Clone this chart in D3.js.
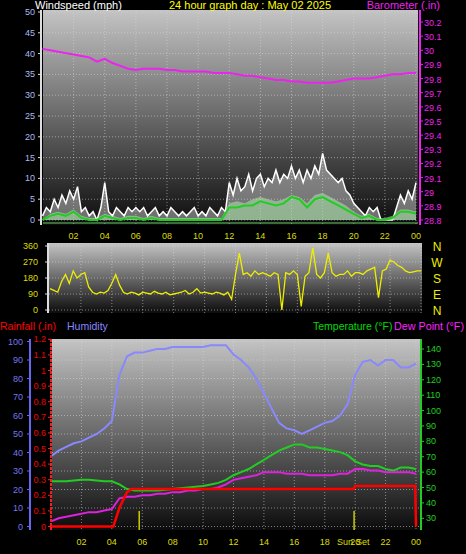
<!DOCTYPE html>
<html><head><meta charset="utf-8">
<script src="https://cdn.jsdelivr.net/npm/d3@7"></script>
<style>body{margin:0;background:#000}svg{display:block;font-family:"Liberation Sans",Arial,sans-serif}</style>
</head><body><div id="container"></div>
<script>
// time steps: half-hour and quarter-hour samples over the day
var halfHours = d3.range(49).map(function(i){ return i/2; });
var quarterHours = d3.range(97).map(function(i){ return i/4; });
var hourLabels = ["02","04","06","08","10","12","14","16","18","20","22","00"];

var windGust = [1,3,2,5, 3,6,4,7, 5,8,2,3, 1,2,0,3, 9,2,1,3, 2,1,3,2, 3,2,3,1, 2,3,1,2,
  1,3,2,1, 2,1,2,3, 1,2,1,3, 2,1,3,2, 9,6,10,7, 8,11,7,10, 11,8,10,9, 12,9,11,10,
  13,10,12,9, 12,10,13,11, 16,12,11,10, 9,10,7,6, 4,3,2,1, 3,2,3,0, 0,0,0,3, 6,4,7,5, 9];
var windSpeed = [0,1.5,2,1.5,2.5,1,0.5,0.5,1.5,1,0.5,1,1,0.5,1,0.5,0.5,0.5,0.5,0.5,0.5,0.5,0.5,0.5,
  4,4.5,4,5,5.5,5,4.5,5,6,5.5,4,6,6.5,5.5,4.5,3.5,2,1,1.5,0.5,0.5,1,2.5,2.5,2];
var windAvg = [0,1,1.5,1,2,0.5,0,0,1,0.5,0,0.5,0.5,0,0.5,0,0,0,0,0,0,0,0,0,
  3,3,3.5,3.5,4.5,4,3.5,4,5.5,5,3,5,5.5,4.5,3.5,2.5,1.5,0.5,1,0,0,0.5,2,2,1.5];
var baro = [30.01,30.0,29.99,29.98,29.97,29.96,29.95,29.92,29.94,29.91,29.89,29.87,29.86,29.87,29.87,29.87,
  29.86,29.86,29.85,29.85,29.85,29.85,29.84,29.84,29.84,29.83,29.82,29.82,29.81,29.8,29.79,29.79,
  29.78,29.78,29.77,29.77,29.77,29.77,29.78,29.79,29.8,29.8,29.8,29.81,29.82,29.83,29.83,29.84,29.84];
var windDir = [120,110,100,160, 200,150,220,180, 200,210,130,100, 90,100,95,110, 150,200,140,100,
  90,100,95,85, 100,95,90,105, 95,90,100,85, 90,95,100,110, 90,100,120,95, 100,95,90,100,
  95,85,100,60, 200,320,200,210, 190,220,200,210, 200,190,210,200, 0,210,200,220,
  200,20,190,210, 350,200,180,210, 320,210,190,200, 200,220,190,210, 210,200,220,230,
  240,70,220,230, 280,270,250,240, 220,210,215,220, 220];
var humidity = [38,41,43,45,46,48,50,53,57,82,92,94,94,95,96,96,97,97,97,97,97,98,98,98,
  93,90,86,80,72,64,56,53,52,50,52,54,56,57,60,66,82,89,90,87,90,90,86,86,88];
var temperature = [54,54,54,54.5,55,55,54.5,54,54,52,49,48,48,48,48,48.5,49,49.5,50,50.5,51,52,53,55,
  58,60,62,65,68,71,74,76,78,78,76,76,75,74,73,71,67,65,64,64,62,61,63,63,62];
var dewPoint = [28,30,31,32,33,34,34,35,36,43,44,44,45,45,46,46,47,47,48,48,49,49,50,52,
  55,56,57,58,60,60,60,59,59,59,58,58,58,58,59,59,62,62,61,61,60,60,60,60,59];
var rainTimes = [0,4.1,4.5,5.0,5.3,19.9,20.0,23.95,24];
var rainValues = [0,0,0.12,0.22,0.24,0.24,0.26,0.26,0];
var sunTimes = [5.8, 19.93];

var svg = d3.select("#container").append("svg").attr("width",466).attr("height",554);
var defs = svg.append("defs");
var grad = defs.append("linearGradient").attr("id","bg").attr("x1",0).attr("x2",0).attr("y1",0).attr("y2",1);
grad.append("stop").attr("offset","0%").attr("stop-color","#c4c4c4");
grad.append("stop").attr("offset","100%").attr("stop-color","#0c0c0c");

function panel(x0,x1,y0,y1){
  svg.append("rect").attr("x",x0).attr("y",y0).attr("width",x1-x0).attr("height",y1-y0).attr("fill","url(#bg)");
}
function text(t,x,y,col,anchor,size){
  return svg.append("text").text(t).attr("x",x).attr("y",y).attr("fill",col)
    .attr("font-size",size||11).attr("text-anchor",anchor||"start");
}
function vgrid(xs,x0,x1,y0,y1){
  d3.range(2,25,2).forEach(function(h){
    svg.append("line").attr("x1",xs(h)).attr("x2",xs(h)).attr("y1",y0).attr("y2",y1)
      .attr("stroke","#d8d8d8").attr("stroke-opacity",0.55).attr("stroke-dasharray","1,2");
  });
}
function hgrid(ys,ticks,x0,x1){
  ticks.forEach(function(t){
    svg.append("line").attr("x1",x0).attr("x2",x1).attr("y1",ys(t)).attr("y2",ys(t))
      .attr("stroke","#d8d8d8").attr("stroke-opacity",0.55).attr("stroke-dasharray","1,2");
  });
}
function axisLine(x,y0,y1,col,ticks,ys,side,dash){
  svg.append("line").attr("x1",x).attr("x2",x).attr("y1",y0).attr("y2",y1).attr("stroke",col)
    .attr("stroke-width",2).attr("stroke-dasharray",dash||null);
  ticks.forEach(function(t){
    svg.append("line").attr("x1",x).attr("x2",x+side*3).attr("y1",ys(t)).attr("y2",ys(t)).attr("stroke",col);
  });
}

// ---------- top panel: wind + barometer ----------
var xTop = d3.scaleLinear().domain([0,24]).range([42.5,416]);
var yWind = d3.scaleLinear().domain([0,50]).range([220,12]);
var yBaro = d3.scaleLinear().domain([28.8,30.2]).range([220,22]);
panel(43,418,10,225);
vgrid(xTop,43,418,10,225);
hgrid(yWind,d3.range(0,51,5),43,418);

var gustPts = quarterHours.map(function(h,i){ return [h,windGust[i]]; });
svg.append("path").datum(gustPts)
  .attr("d",d3.area().x(function(d){return xTop(d[0]);}).y0(yWind(0)).y1(function(d){return yWind(d[1]);}))
  .attr("fill","#e0e0e0").attr("fill-opacity",0.45);
svg.append("path").datum(gustPts)
  .attr("d",d3.line().x(function(d){return xTop(d[0]);}).y(function(d){return yWind(d[1]);}))
  .attr("fill","none").attr("stroke","#ffffff").attr("stroke-width",1.5);
svg.append("path").datum(halfHours.map(function(h,i){return [h,windSpeed[i]];}))
  .attr("d",d3.area().x(function(d){return xTop(d[0]);}).y0(yWind(0)).y1(function(d){return yWind(d[1]);}))
  .attr("fill","#a8e0a8").attr("fill-opacity",0.6);
svg.append("path").datum(halfHours.map(function(h,i){return [h,windAvg[i]];}))
  .attr("d",d3.line().x(function(d){return xTop(d[0]);}).y(function(d){return yWind(d[1]);}))
  .attr("fill","none").attr("stroke","#22cc22").attr("stroke-width",2);
svg.append("line").attr("x1",43).attr("x2",418).attr("y1",yWind(0)+3).attr("y2",yWind(0)+3).attr("stroke","#66cc66").attr("stroke-width",1);
svg.append("path").datum(halfHours.map(function(h,i){return [h,baro[i]];}))
  .attr("d",d3.line().x(function(d){return xTop(d[0]);}).y(function(d){return yBaro(d[1]);}))
  .attr("fill","none").attr("stroke","#ee22ee").attr("stroke-width",2);

axisLine(41,10,225,"#dddddd",d3.range(0,51,5),yWind,-1);
d3.range(0,51,5).forEach(function(t){ text(t,35,yWind(t)+3,"#aabbee","end",9); });
axisLine(420,10,225,"#ee22ee",d3.range(28.8,30.21,0.1),yBaro,1);
d3.range(28.8,30.21,0.1).forEach(function(t){ text(+t.toFixed(1),424,yBaro(t)+4,"#ee22ee","start",9); });
hourLabels.forEach(function(l,i){ text(l,xTop((i+1)*2),239,"#dddd00","middle",9); });

text("Windspeed (mph)",35,9,"#ffffff","start",11);
text("24 hour graph day : May 02 2025",250,9,"#ffff00","middle",11);
text("Barometer (.in)",440,9,"#ee22ee","end",11);

// ---------- middle panel: wind direction ----------
var xMid = d3.scaleLinear().domain([0,24]).range([50,421]);
var yDir = d3.scaleLinear().domain([0,360]).range([310,246]);
panel(49,422,243,313);
vgrid(xMid,49,422,243,313);
hgrid(yDir,[0,90,180,270,360],49,422);
svg.append("path").datum(quarterHours.map(function(h,i){return [h,windDir[i]];}))
  .attr("d",d3.line().x(function(d){return xMid(d[0]);}).y(function(d){return yDir(d[1]);}))
  .attr("fill","none").attr("stroke","#eeee00").attr("stroke-width",1.3);
axisLine(48,243,313,"#dddddd",[0,90,180,270,360],yDir,-1);
[0,90,180,270,360].forEach(function(t){ text(t,38,yDir(t)+3,"#dddd00","end",9); });
["N","E","S","W","N"].forEach(function(c,i){ text(c,437,yDir(i*90)+5,"#eeee00","middle",12); });

// ---------- legend row ----------
text("Rainfall (.in)",0,330,"#ff0000","start",10.5);
text("Humidity",67,330,"#8888ff","start",10.5);
text("Temperature (°F)",313,330,"#00dd00","start",10.5);
text("Dew Point (°F)",394,330,"#ff22ff","start",10.5).attr("textLength",70).attr("lengthAdjust","spacingAndGlyphs");

// ---------- bottom panel: humidity, rain, temperature, dew point ----------
var xBot = d3.scaleLinear().domain([0,24]).range([51,416]);
var yHum = d3.scaleLinear().domain([0,100]).range([526.5,341.5]);
var yRain = d3.scaleLinear().domain([0,1.2]).range([526.5,339.3]);
var yTemp = d3.scaleLinear().domain([30,140]).range([518.3,349]);
panel(52,421,339,530);
vgrid(xBot,52,421,339,530);
hgrid(yHum,d3.range(0,101,10),52,421);

svg.append("path").datum(halfHours.map(function(h,i){return [h,humidity[i]];}))
  .attr("d",d3.line().x(function(d){return xBot(d[0]);}).y(function(d){return yHum(d[1]);}))
  .attr("fill","none").attr("stroke","#8888ff").attr("stroke-width",2);
svg.append("path").datum(halfHours.map(function(h,i){return [h,temperature[i]];}))
  .attr("d",d3.line().x(function(d){return xBot(d[0]);}).y(function(d){return yTemp(d[1]);}))
  .attr("fill","none").attr("stroke","#22cc22").attr("stroke-width",2);
svg.append("path").datum(halfHours.map(function(h,i){return [h,dewPoint[i]];}))
  .attr("d",d3.line().x(function(d){return xBot(d[0]);}).y(function(d){return yTemp(d[1]);}))
  .attr("fill","none").attr("stroke","#dd22dd").attr("stroke-width",2);
svg.append("path").datum(rainTimes.map(function(h,i){return [h,rainValues[i]];}))
  .attr("d",d3.line().x(function(d){return xBot(d[0]);}).y(function(d){return yRain(d[1]);}))
  .attr("fill","none").attr("stroke","#ff0000").attr("stroke-width",2.5);
sunTimes.forEach(function(t){
  svg.append("line").attr("x1",xBot(t)).attr("x2",xBot(t)).attr("y1",511).attr("y2",530)
    .attr("stroke","#cccc00").attr("stroke-width",1.5);
});

axisLine(30,339,530,"#6666ee",d3.range(0,101,10),yHum,-1);
d3.range(0,101,10).forEach(function(t){ text(t,23,yHum(t)+3,"#7777ee","end",9); });
axisLine(51,339,530,"#ee2222",d3.range(0,1.21,0.1),yRain,-1,"3,1");
d3.range(0,1.21,0.1).forEach(function(t){ text(+t.toFixed(1),46,yRain(t)+3,"#ee0000","end",9); });
axisLine(421,339,530,"#22cc22",d3.range(30,141,10),yTemp,1);
d3.range(30,141,10).forEach(function(t){ text(t,426,yTemp(t)+3,"#22cc22","start",9); });
hourLabels.forEach(function(l,i){ text(l,xBot((i+1)*2),545,"#dddd00","middle",9); });
text("Sun",xBot(sunTimes[1])-1,545,"#dddd00","end",9);
text("Set",xBot(sunTimes[1])+2,545,"#dddd00","start",9);
</script>
</body></html>
